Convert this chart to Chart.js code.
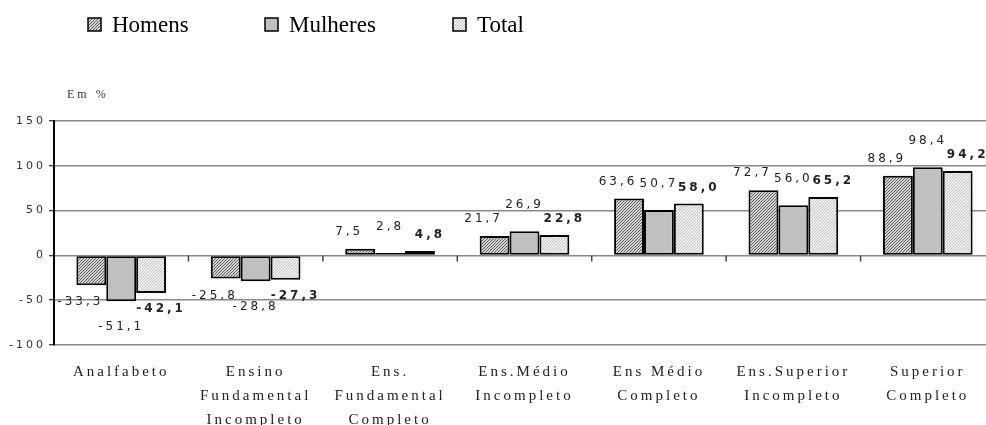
<!DOCTYPE html>
<html lang="pt">
<head>
<meta charset="UTF-8">
<title>Variação por escolaridade</title>
<script src="https://cdn.jsdelivr.net/npm/chart.js"></script>
<style>
  html, body { margin: 0; padding: 0; background: #fff; overflow: hidden; }
  #wrap { width: 1000px; height: 425px; }
</style>
</head>
<body>
<div id="wrap"><canvas id="chart" width="1000" height="425"></canvas></div>
<script>
// dados do gráfico
const categorias = [
    ['Analfabeto'],
    ['Ensino', 'Fundamental', 'Incompleto'],
    ['Ens.', 'Fundamental', 'Completo'],
    ['Ens.Médio', 'Incompleto'],
    ['Ens Médio', 'Completo'],
    ['Ens.Superior', 'Incompleto'],
    ['Superior', 'Completo']
];
const series = ['Homens', 'Mulheres', 'Total'];
const homens = [-33.3, -25.8, 7.5, 21.7, 63.6, 72.7, 88.9];
const mulheres = [-51.1, -28.8, 2.8, 26.9, 50.7, 56.0, 98.4];
const total = [-42.1, -27.3, 4.8, 22.8, 58.0, 65.2, 94.2];
const yTicks = [-100, -50, 0, 50, 100, 150];
const unidade = 'Em %';

// padrões de preenchimento (hachuras)
function hatch(bg, fg) {
    const c = document.createElement('canvas');
    c.width = 3; c.height = 3;
    const g = c.getContext('2d');
    g.fillStyle = bg;
    g.fillRect(0, 0, 3, 3);
    g.fillStyle = fg;
    // diagonal de 1px
    g.fillRect(2, 0, 1, 1);
    g.fillRect(1, 1, 1, 1);
    g.fillRect(0, 2, 1, 1);
    return g.createPattern(c, 'repeat');
}
const fills = [hatch('#d4d4d4', '#5c5c5c'), '#c0c0c0', hatch('#f0f0f0', '#c2c2c2')];

// rótulos de valor, série "Total" em negrito
const labelDx = [-11, 0, 10];
const labelDy = [17, 26, 16];
const valueLabels = {
    id: 'valueLabels',
    afterDatasetsDraw(chart) {
        const ctx = chart.ctx;
        ctx.save();
        ctx.letterSpacing = '3px';
        ctx.fillStyle = '#222';
        ctx.textAlign = 'center';
        ctx.textBaseline = 'middle';
        chart.data.datasets.forEach((ds, i) => {
            ctx.font = (i === 2 ? 'bold ' : '') + '12px "DejaVu Sans"';
            chart.getDatasetMeta(i).data.forEach((bar, j) => {
                const v = ds.data[j];
                const y = v >= 0 ? bar.y - labelDy[i] : bar.y + labelDy[i];
                ctx.fillText(v.toFixed(1).replace('.', ','), bar.x + labelDx[i], y);
            });
        });
        ctx.restore();
    }
};

// marcas do eixo de categorias sobre a linha do zero
const zeroTicks = {
    id: 'zeroTicks',
    afterDatasetsDraw(chart) {
        const x = chart.scales.x, y = chart.scales.y;
        const y0 = y.getPixelForValue(0);
        const ctx = chart.ctx;
        ctx.save();
        ctx.strokeStyle = '#444';
        ctx.lineWidth = 1.5;
        ctx.beginPath();
        for (let i = 1; i < categorias.length; i++) {
            const px = (x.getPixelForTick(i - 1) + x.getPixelForTick(i)) / 2;
            ctx.moveTo(px, y0);
            ctx.lineTo(px, y0 + 6);
        }
        ctx.stroke();
        ctx.restore();
    }
};

// legenda e unidade
const legendX = [88, 265, 453];
const legendaTopo = {
    id: 'legendaTopo',
    beforeDraw(chart) {
        chart.ctx.letterSpacing = '3px';
    },
    afterDraw(chart) {
        const ctx = chart.ctx;
        ctx.save();
        ctx.letterSpacing = '0px';
        series.forEach((nome, i) => {
            const x = legendX[i];
            ctx.fillStyle = fills[i];
            ctx.fillRect(x, 18, 13, 13);
            ctx.strokeStyle = '#000';
            ctx.lineWidth = 1.5;
            ctx.strokeRect(x, 18, 13, 13);
            ctx.fillStyle = '#000';
            ctx.font = '23px "Liberation Serif"';
            ctx.textBaseline = 'alphabetic';
            ctx.fillText(nome, x + 24, 32);
        });
        ctx.letterSpacing = '3px';
        ctx.font = '12px "Liberation Serif"';
        ctx.fillStyle = '#333';
        ctx.textBaseline = 'middle';
        ctx.fillText(unidade, 67, 95);
        ctx.restore();
    }
};

const ctx = document.getElementById('chart').getContext('2d');
new Chart(ctx, {
    type: 'bar',
    data: {
        labels: categorias,
        datasets: series.map((nome, i) => ({
            label: nome,
            data: [homens, mulheres, total][i],
            backgroundColor: fills[i],
            borderColor: '#000',
            borderWidth: 2,
            borderSkipped: false,
            categoryPercentage: 0.667,
            barPercentage: 1.0
        }))
    },
    options: {
        responsive: false,
        animation: false,
        devicePixelRatio: 1,
        layout: { padding: { top: 121, right: 5, left: 0, bottom: 0 } },
        plugins: {
            legend: { display: false },
            tooltip: { enabled: false }
        },
        scales: {
            x: {
                grid: { display: false },
                border: { display: false },
                ticks: {
                    font: { family: 'Liberation Serif', size: 15, lineHeight: 1.6 },
                    color: '#222',
                    padding: 7,
                    maxRotation: 0,
                    autoSkip: false
                },
                afterFit(s) { s.height = 80; }
            },
            y: {
                min: -100,
                max: 150,
                afterBuildTicks(s) { s.ticks = yTicks.map(v => ({ value: v })); },
                ticks: {
                    font: { family: 'DejaVu Sans', size: 11 },
                    color: '#333',
                    padding: 3
                },
                grid: {
                    color: '#8a8a8a',
                    lineWidth: 1.5,
                    tickLength: 5,
                    tickColor: '#000',
                    tickWidth: 1
                },
                border: { color: '#000', width: 2 },
                afterFit(s) { s.width = 54; }
            }
        }
    },
    plugins: [valueLabels, zeroTicks, legendaTopo]
});
</script>
</body>
</html>
